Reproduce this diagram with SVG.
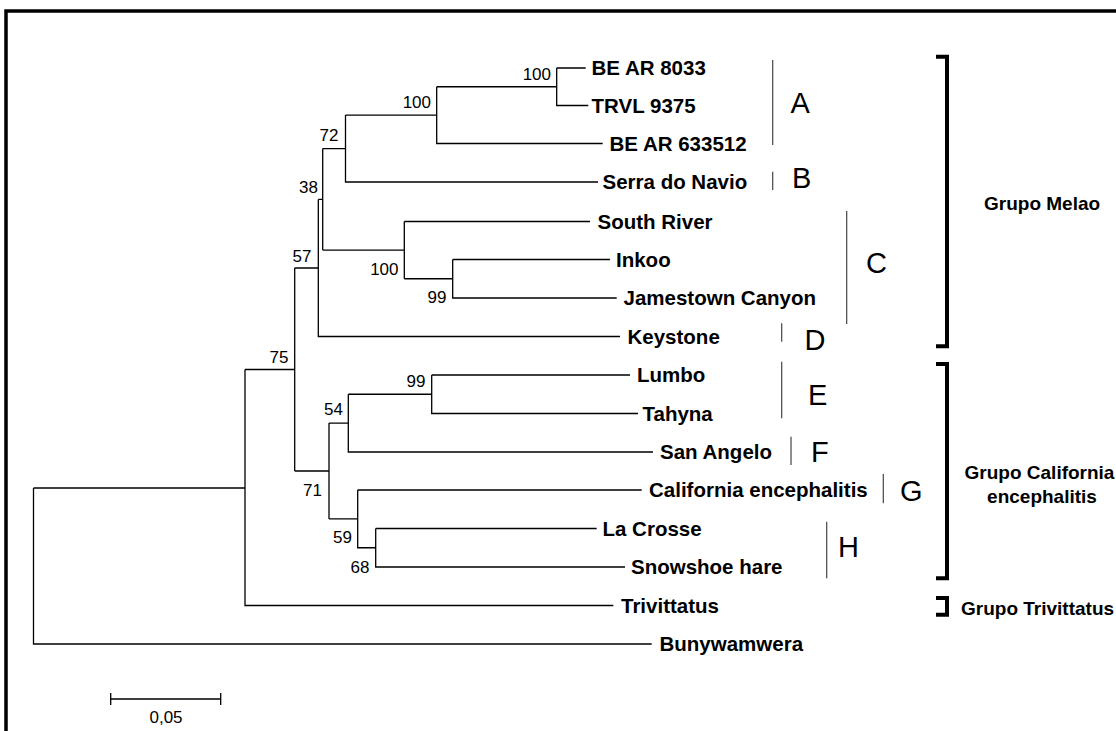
<svg xmlns="http://www.w3.org/2000/svg" width="1116" height="731" viewBox="0 0 1116 731">
<style>
.leaf{font-family:"Liberation Sans",Arial,sans-serif;font-weight:bold;font-size:20.5px;fill:#000}
.bs{font-family:"Liberation Sans",Arial,sans-serif;font-size:17px;fill:#000;text-anchor:end}
.clade{font-family:"Liberation Sans",Arial,sans-serif;font-size:29px;fill:#000}
.grp{font-family:"Liberation Sans",Arial,sans-serif;font-weight:bold;font-size:19px;fill:#000}
.tree{fill:none;stroke:#000;stroke-width:1.3}
.sep{stroke:#444;stroke-width:1.2}
.brk{fill:none;stroke:#000;stroke-width:4}
</style>
<rect width="1116" height="731" fill="#fff"/>
<path d="M6,731 V11 H1116" fill="none" stroke="#000" stroke-width="3.5"/>

<g id="connectors" class="tree">
<path d="M33.5,488 V644 H651.7 M33.5,488 H245"/>
<path d="M245,369.5 V605.5 H613.3 M245,369.5 H294.7"/>
<path d="M294.7,268 V471 M294.7,268 H318.3"/>
<path d="M318.3,199.4 V336.5 H620 M318.3,199.4 H322.7"/>
<path d="M322.7,148.6 V250.1 M322.7,148.6 H345.5"/>
<path d="M345.5,115.1 V182 H598 M345.5,115.1 H436.7"/>
<path d="M436.7,86.75 V143.5 H602.7 M436.7,86.75 H556.7"/>
<path d="M556.7,68 V105.5 H588.3 M556.7,68 H585.7"/>
<path d="M322.7,250.1 H404.3 M404.3,221.5 V278.75 M404.3,221.5 H590 M404.3,278.75 H452.7"/>
<path d="M452.7,259.5 V298 H616.7 M452.7,259.5 H610"/>
<path d="M294.7,471 H329 M329,423.1 V518.9"/>
<path d="M329,423.1 H348.3 M348.3,394.25 V452 H653 M348.3,394.25 H431.7"/>
<path d="M431.7,375 V413.5 H638 M431.7,375 H630"/>
<path d="M329,518.9 H357.7 M357.7,490 V547.75 H375.7 M357.7,490 H641.7"/>
<path d="M375.7,528.5 V567 H625 M375.7,528.5 H596.7"/>
</g>

<g id="bootstrap">
<text class="bs" x="551" y="80">100</text>
<text class="bs" x="431" y="107.5">100</text>
<text class="bs" x="338.5" y="140.7">72</text>
<text class="bs" x="318" y="193.3">38</text>
<text class="bs" x="311.5" y="262.3">57</text>
<text class="bs" x="398.5" y="275">100</text>
<text class="bs" x="446.5" y="303.3">99</text>
<text class="bs" x="288.5" y="363.3">75</text>
<text class="bs" x="425.5" y="386.7">99</text>
<text class="bs" x="343" y="415">54</text>
<text class="bs" x="322" y="496">71</text>
<text class="bs" x="352" y="543.3">59</text>
<text class="bs" x="369.5" y="572.7">68</text>
</g>

<g id="leaf-bear8033"><text class="leaf" x="591.5" y="75">BE AR 8033</text></g>
<g id="leaf-trvl9375"><text class="leaf" x="591.5" y="112.5">TRVL 9375</text></g>
<g id="leaf-bear633512"><text class="leaf" x="609.5" y="150.5">BE AR 633512</text></g>
<g id="leaf-serra"><text class="leaf" x="602.5" y="189">Serra do Navio</text></g>
<g id="leaf-southriver"><text class="leaf" x="597.5" y="228.5">South River</text></g>
<g id="leaf-inkoo"><text class="leaf" x="616" y="266.5">Inkoo</text></g>
<g id="leaf-jamestown"><text class="leaf" x="623.5" y="305">Jamestown Canyon</text></g>
<g id="leaf-keystone"><text class="leaf" x="627.5" y="343.5">Keystone</text></g>
<g id="leaf-lumbo"><text class="leaf" x="637" y="382">Lumbo</text></g>
<g id="leaf-tahyna"><text class="leaf" x="642.5" y="420.5">Tahyna</text></g>
<g id="leaf-sanangelo"><text class="leaf" x="660" y="459">San Angelo</text></g>
<g id="leaf-california"><text class="leaf" x="649" y="497">California encephalitis</text></g>
<g id="leaf-lacrosse"><text class="leaf" x="602.5" y="535.5">La Crosse</text></g>
<g id="leaf-snowshoe"><text class="leaf" x="631" y="574">Snowshoe hare</text></g>
<g id="leaf-trivittatus"><text class="leaf" x="621" y="612.5">Trivittatus</text></g>
<g id="leaf-bunyamwera"><text class="leaf" x="659.5" y="651">Bunywamwera</text></g>

<g id="clade-A"><line class="sep" x1="772.7" y1="60" x2="772.7" y2="145"/><text class="clade" x="790.5" y="113.3">A</text></g>
<g id="clade-B"><line class="sep" x1="772.7" y1="171.7" x2="772.7" y2="190"/><text class="clade" x="792" y="188.3">B</text></g>
<g id="clade-C"><line class="sep" x1="846.7" y1="211" x2="846.7" y2="324"/><text class="clade" x="866" y="272.7">C</text></g>
<g id="clade-D"><line class="sep" x1="781.7" y1="323.3" x2="781.7" y2="341.7"/><text class="clade" x="804.5" y="350">D</text></g>
<g id="clade-E"><line class="sep" x1="781.7" y1="361.7" x2="781.7" y2="418.3"/><text class="clade" x="808" y="405">E</text></g>
<g id="clade-F"><line class="sep" x1="791" y1="436.7" x2="791" y2="465"/><text class="clade" x="811" y="461.7">F</text></g>
<g id="clade-G"><line class="sep" x1="883.3" y1="474" x2="883.3" y2="503.3"/><text class="clade" x="900" y="500.7">G</text></g>
<g id="clade-H"><line class="sep" x1="826.7" y1="521.7" x2="826.7" y2="578.3"/><text class="clade" x="838" y="556.7">H</text></g>

<g id="grupo-melao"><path class="brk" d="M936,56.7 H947 V346.3 H936"/><text class="grp" x="984" y="210">Grupo Melao</text></g>
<g id="grupo-california"><path class="brk" d="M936,364 H947 V578.3 H936"/><text class="grp" text-anchor="middle"><tspan x="1039.5" y="479.3">Grupo California</tspan><tspan x="1042" y="503.3">encephalitis</tspan></text></g>
<g id="grupo-trivittatus"><path class="brk" d="M936,598 H947 V614.7 H936"/><text class="grp" x="961" y="615">Grupo Trivittatus</text></g>

<g id="scale-bar">
<path class="tree" d="M110.7,699 H220.7 M110.7,693 V705 M220.7,693 V705" stroke-width="1.6"/>
<text class="bs" x="166" y="723" text-anchor="middle" style="text-anchor:middle">0,05</text>
</g>
</svg>
